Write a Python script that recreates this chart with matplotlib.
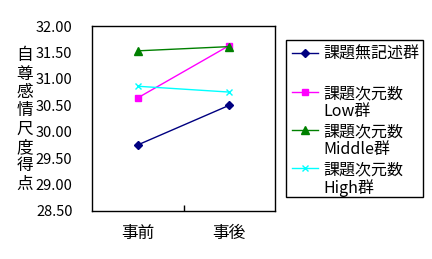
import matplotlib
matplotlib.use("Agg")
import matplotlib.pyplot as plt
from matplotlib.lines import Line2D
from matplotlib.patches import Rectangle

plt.rcParams['font.family'] = ['Noto Sans CJK JP', 'DejaVu Sans']

# data
phases = ["事前", "事後"]
series_names = ["課題無記述群", "課題次元数\nLow群", "課題次元数\nMiddle群", "課題次元数\nHigh群"]
no_desc = [29.75, 30.50]
low = [30.64, 31.63]
middle = [31.53, 31.61]
high = [30.86, 30.75]
y_ticks = [28.5, 29.0, 29.5, 30.0, 30.5, 31.0, 31.5, 32.0]
y_label = "自尊感情尺度得点"

values = [no_desc, low, middle, high]
colors = ["#000080", "#ff00ff", "#008000", "#00ffff"]
markers = ["D", "s", "^", "x"]
msizes = [4, 5, 6, 4]

W, H = 432, 259
fig = plt.figure(figsize=(W / 100, H / 100), dpi=100)


def fx(px):
    return px / W


def fy(py):
    return 1 - py / H


ax = fig.add_axes([fx(92), fy(211), fx(275) - fx(92), fy(26) - fy(211)])
xs = list(range(len(phases)))
for vals, c, m, ms in zip(values, colors, markers, msizes):
    ax.plot(xs, vals, color=c, marker=m, markersize=ms, linewidth=1,
            markeredgewidth=1)

ax.set_xlim(-0.5, 1.5)
ax.set_ylim(28.5, 32.0)
ax.set_yticks(y_ticks)
ax.set_yticklabels([f"{v:.2f}" for v in y_ticks], fontsize=10.5)
ax.set_xticks(xs)
ax.set_xticklabels(phases, fontsize=12)
ax.set_xticks([0.5], minor=True)
ax.tick_params(axis='y', length=0, pad=14)
ax.tick_params(axis='x', which='major', length=0, pad=10)
ax.tick_params(axis='x', which='minor', direction='in', length=4, width=1)
for s in ax.spines.values():
    s.set_linewidth(1)
    s.set_color("black")

# vertical y label, one char per line
fig.text(fx(25), fy(120), "\n".join(y_label), ha='center', va='center',
         fontsize=12, linespacing=1.1)

# legend box
fig.patches.append(Rectangle((fx(286), fy(197)), fx(423) - fx(286),
                             fy(40) - fy(197), transform=fig.transFigure,
                             fill=False, edgecolor='black', linewidth=1))
row_y = [53, 92, 130, 168]
for name, c, m, ms, ry in zip(series_names, colors, markers, msizes, row_y):
    fig.lines.append(Line2D([fx(292), fx(318)], [fy(ry), fy(ry)],
                            transform=fig.transFigure, color=c, linewidth=1))
    fig.lines.append(Line2D([fx(305)], [fy(ry)], transform=fig.transFigure,
                            color=c, marker=m, markersize=ms, linestyle='none'))
    fig.text(fx(323), fy(ry - 7), name, ha='left', va='top', fontsize=11.5,
             linespacing=1.1)

fig.savefig("out.png", dpi=100)
